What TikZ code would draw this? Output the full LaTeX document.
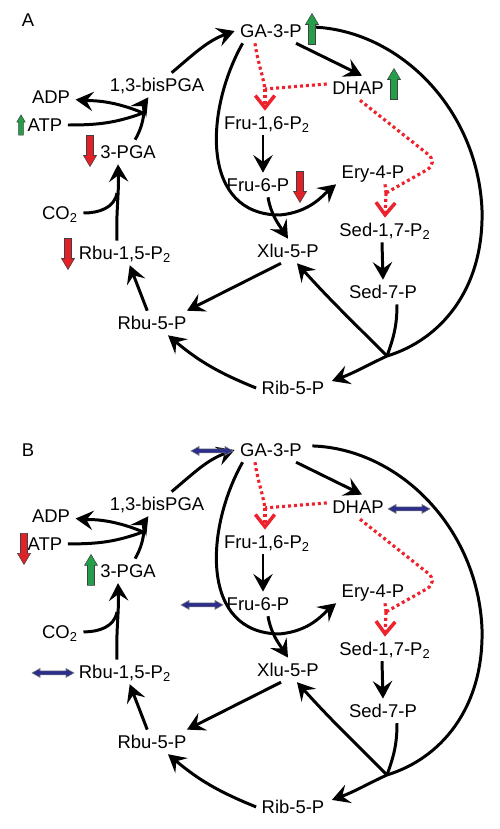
\documentclass[tikz,border=0pt]{standalone}
\usepackage{fontspec}
\setmainfont{Liberation Sans}
\usetikzlibrary{arrows.meta,calc}

\definecolor{upgreen}{RGB}{36,158,72}
\definecolor{downred}{RGB}{226,32,40}
\definecolor{flatblue}{RGB}{44,46,138}
\definecolor{dotred}{RGB}{238,34,44}

% the cycle itself, drawn once per panel
\newcommand\calvincycle{%
  % metabolites
  \node[met] (GA)   at (271,-31)  {GA-3-P};
  \node[met] (DHAP) at (358,-88)  {DHAP};
  \node[met] (F16)  at (267,-123) {Fru-1,6-P\textsubscript{2}};
  \node[met] (F6)   at (258,-185) {Fru-6-P};
  \node[met] (E4)   at (373,-172) {Ery-4-P};
  \node[met] (S17)  at (385,-230) {Sed-1,7-P\textsubscript{2}};
  \node[met] (S7)   at (383,-292) {Sed-7-P};
  \node[met] (X5)   at (288,-251) {Xlu-5-P};
  \node[met] (R5)   at (293,-388) {Rib-5-P};
  \node[met] (Ru5)  at (152,-323) {Rbu-5-P};
  \node[met] (RuBP) at (125,-253) {Rbu-1,5-P\textsubscript{2}};
  \node[met] (CO2)  at (60,-213)  {CO\textsubscript{2}};
  \node[met] (PGA)  at (128,-152) {3-PGA};
  \node[met] (ATP)  at (45,-125)  {ATP};
  \node[met] (ADP)  at (51,-97)   {ADP};
  \node[met] (BPGA) at (157,-85)  {1,3-bisPGA};
  % branch points
  \coordinate (J1) at (143,-113);
  \coordinate (J2) at (117,-193);
  \coordinate (J3) at (387,-356);
  \coordinate (J4) at (280,-215);
  \coordinate (J5) at (265,-89);
  \coordinate (J7) at (386,-193);
  % carboxylation and reduction
  \draw[flow] ($(RuBP.north)+(-8,0)$) to[out=92,in=-88] ($(PGA.south)+(-10,0)$);
  \draw[rxn] (CO2.east) to[out=0,in=-100] (J2);
  \draw[flow] (PGA) to[out=60,in=235] (BPGA);
  \draw[rxn] (ATP.east) to[out=0,in=200] (J1);
  \draw[flow] (J1) to[out=157,in=-6] (ADP);
  \draw[flow] (BPGA) to[out=40,in=200] (GA.west);
  % regeneration
  \draw[flow] (GA) -- ($(DHAP.north)+(4,0)$);
  \draw[flow] ($(GA.south west)+(8,0)$) .. controls (205,-110) and (200,-215) .. (J4)
    .. controls (310,-212) and (322,-196) .. (E4.south west);
  \draw[flow] ($(F16.south)+(-4,0)$) -- ($(F6.north)+(5,0)$);
  \draw[flow] ($(F6.south)+(10,0)$) to[out=-80,in=123] (X5.north);
  \draw[flow] ($(S17.south)+(-3,0)$) -- (S7.north);
  \draw[rxn] ($(GA.east)+(5,4)$) .. controls (400,-30) and (478,-110) .. (482,-210)
    .. controls (484,-290) and (440,-340) .. (J3);
  \draw[rxn] ($(S7.south)+(14,0)$) to[out=-90,in=70] (J3);
  \draw[flow] (J3) to[out=205,in=20] ($(R5.east)+(2,7)$);
  \draw[flow] (J3) to[out=135,in=-48] ($(X5.south)+(9,0)$);
  \draw[flow] (R5.west) to[out=158,in=-40] ($(Ru5.south)+(16,0)$);
  \draw[flow] ($(X5.south)+(-7,0)$) -- ($(Ru5.north east)+(-5,0)$);
  \draw[flow] (Ru5) -- (RuBP);
  % aldolase steps
  \draw[dots] ($(GA.south)+(-16,0)$) to[out=-82,in=100] (J5);
  \draw[dots] ($(DHAP.west)+(0,4)$) -- (J5);
  \draw[dotflow] (J5) -- ($(F16.north)+(-2,0)$);
  \draw[dots,rounded corners=8pt] ($(DHAP.south)+(2,0)$) -- (439,-163) -- (J7);
  \draw[dots] ($(E4.south)+(12,0)$) -- (J7);
  \draw[dotflow] (J7) -- (S17.north);
}

\begin{document}
\begin{tikzpicture}[x=0.02cm,y=0.02cm,
  met/.style={inner sep=3pt,text height=7.6pt,text depth=0pt,
    font=\fontsize{10.5}{12}\selectfont},
  rxn/.style={line width=1.7pt},
  flow/.style={rxn,-{Stealth[length=10pt,width=11pt,inset=3.8pt]}},
  dots/.style={line width=1.8pt,dotred,dash pattern=on 1.7pt off 1.7pt},
  dotflow/.style={dots,-{Straight Barb[length=7pt,width=11pt,line width=2pt]}},
  bar/.pic={\filldraw[fill=#1,draw=black!75,line width=0.3pt]
    (-3.5,-15.5) -- (3.5,-15.5) -- (3.5,4.5) -- (6.5,4.5) -- (0,15.5)
    -- (-6.5,4.5) -- (-3.5,4.5) -- cycle;},
  level/.pic={\filldraw[fill=flatblue,draw=black!50,line width=0.3pt]
    (-21,0) -- (-13,4.5) -- (-13,2) -- (13,2) -- (13,4.5) -- (21,0)
    -- (13,-4.5) -- (13,-2) -- (-13,-2) -- (-13,-4.5) -- cycle;}
]
\useasboundingbox (0,0) rectangle (500,-829);

\node[met] (labelA) at (28,-20)  {A};
\node[met] (labelB) at (28,-450) {B};

% panel A
\begin{scope}[name prefix=a-]
  \calvincycle
  \pic at (312,-29) {bar=upgreen};
  \pic at (394,-84) {bar=upgreen};
  \pic[rotate=180] at (300,-187) {bar=downred};
  \pic[rotate=180] at (90,-151) {bar=downred};
  \pic[scale=0.65] at (21,-125) {bar=upgreen};
  \pic[rotate=180] at (68,-254) {bar=downred};
\end{scope}

% panel B
\begin{scope}[yshift=-8.38cm,name prefix=b-]
  \calvincycle
  \pic at (212,-32) {level};
  \pic at (409,-90) {level};
  \pic at (202,-186) {level};
  \pic at (53,-254) {level};
  \pic[rotate=180] at (24,-130) {bar=downred};
  \pic at (91,-151) {bar=upgreen};
\end{scope}
\end{tikzpicture}
\end{document}
